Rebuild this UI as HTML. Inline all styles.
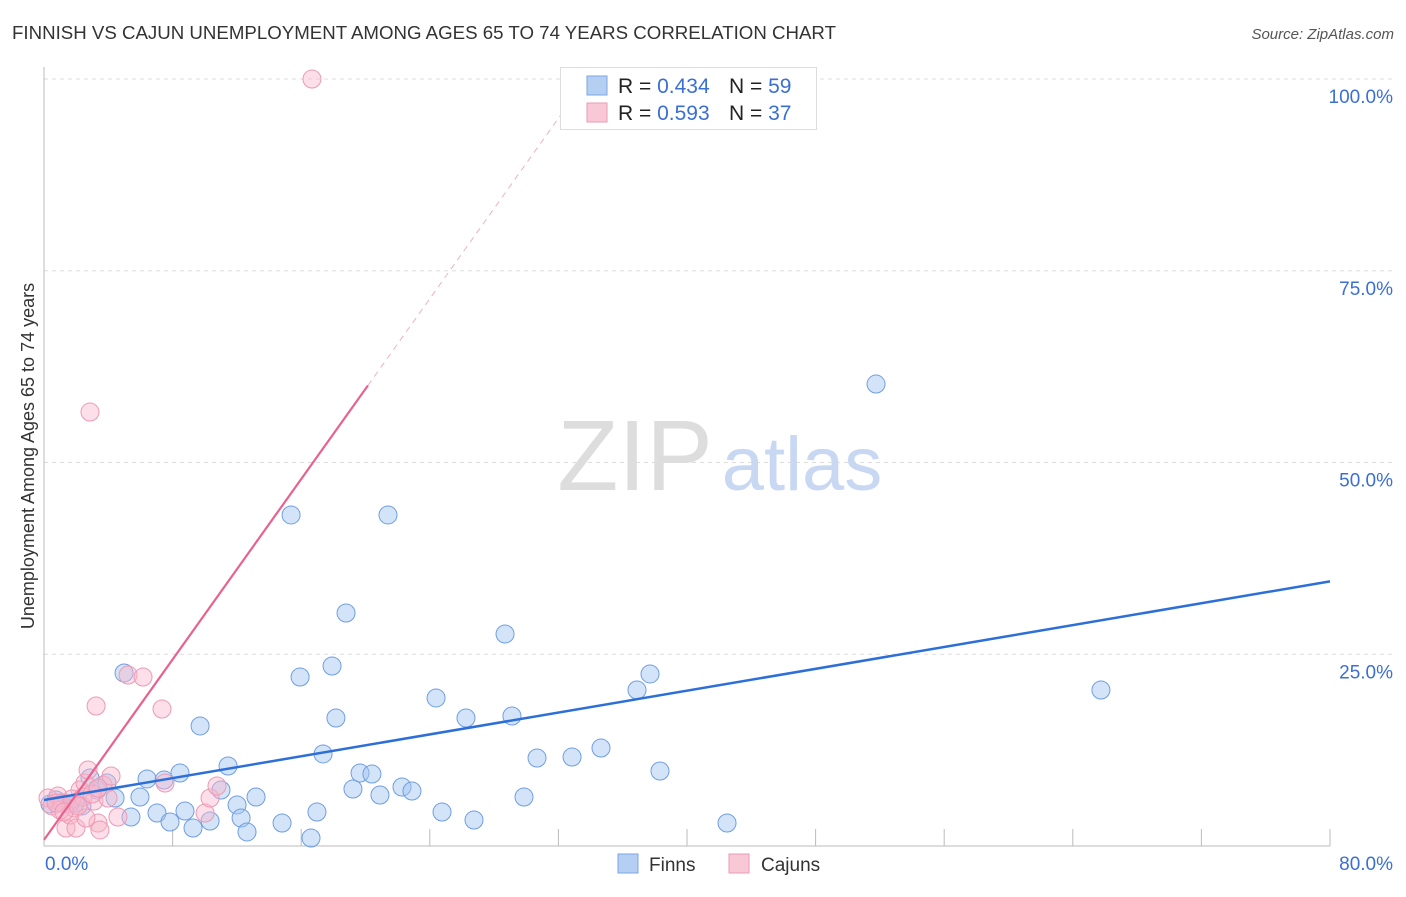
<!DOCTYPE html>
<html><head><meta charset="utf-8"><style>
body{margin:0;background:#fff;font-family:"Liberation Sans",sans-serif}
svg text{font-family:"Liberation Sans",sans-serif}
</style></head><body>
<svg id="chart" width="1406" height="892" xmlns="http://www.w3.org/2000/svg">
<text x="12" y="39" font-size="18" fill="#333" textLength="824" lengthAdjust="spacingAndGlyphs">FINNISH VS CAJUN UNEMPLOYMENT AMONG AGES 65 TO 74 YEARS CORRELATION CHART</text>
<text x="1394" y="39" font-size="15" font-style="italic" fill="#555" text-anchor="end">Source: ZipAtlas.com</text>
<g id="grid"></g>
<text x="635" y="490" font-size="100" font-family="Liberation Serif" fill="#ddd" text-anchor="middle">ZIP</text>
<text x="802" y="490" font-size="76" fill="#c9d8f2" text-anchor="middle">atlas</text>
<g id="axes"></g>
<g id="pts"></g>
<g id="lines"></g>
<text transform="translate(34,456) rotate(-90)" font-size="18" fill="#333" text-anchor="middle">Unemployment Among Ages 65 to 74 years</text>
<g>
<rect x="560.5" y="67.5" width="256" height="62" fill="#fff" stroke="#ddd"/>
<rect x="587" y="76" width="20" height="19" fill="#b5cff3" stroke="#7aa5e6"/>
<rect x="587" y="103" width="20" height="19" fill="#f9c8d6" stroke="#eb9ab3"/>
<text x="618" y="93" font-size="21" fill="#222">R = <tspan fill="#3b6fd4">0.434</tspan></text>
<text x="729" y="93" font-size="21" fill="#222">N = <tspan fill="#3b6fd4">59</tspan></text>
<text x="618" y="120" font-size="21" fill="#222">R = <tspan fill="#3b6fd4"> 0.593</tspan></text>
<text x="729" y="120" font-size="21" fill="#222">N = <tspan fill="#3b6fd4">37</tspan></text>
</g>
<g>
<rect x="618" y="854" width="20" height="19" fill="#b5cff3" stroke="#7aa5e6"/>
<text x="649" y="871" font-size="19" fill="#333">Finns</text>
<rect x="729" y="854" width="20" height="19" fill="#f9c8d6" stroke="#eb9ab3"/>
<text x="761" y="871" font-size="19" fill="#333">Cajuns</text>
</g>
</svg>
<script>
const yTicks=[25,50,75,100];
const yTickLabels=["25.0%","50.0%","75.0%","100.0%"];
const finnsX=[0.37,0.75,1.12,1.62,1.93,2.36,2.86,3.30,3.92,4.42,4.98,5.41,5.97,6.41,7.03,7.47,7.84,8.46,8.77,9.27,9.71,10.33,11.01,11.45,12.01,12.26,12.63,13.19,14.81,15.37,15.93,16.61,16.98,17.36,17.92,18.16,18.79,19.22,19.66,20.40,20.90,21.40,22.27,22.89,24.39,24.76,26.25,26.75,28.68,29.11,29.86,30.67,32.85,34.65,36.89,37.70,38.32,42.49,51.76,65.75];
const finnsY=[5.48,6.0,5.61,5.48,5.61,5.22,8.87,7.30,8.21,6.26,22.56,3.78,6.39,8.74,4.30,8.60,3.13,9.52,4.56,2.35,15.65,3.26,7.30,10.43,5.35,3.65,1.83,6.39,3.00,43.16,22.03,1.04,4.43,12.0,23.47,16.69,30.38,7.43,9.52,9.39,6.65,43.16,7.69,7.17,19.30,4.43,16.69,3.39,27.64,16.95,6.39,11.47,11.60,12.78,20.34,22.43,9.78,3.00,60.23,20.34];
const cajunsX=[0.25,0.50,0.87,1.12,1.37,1.62,1.87,1.99,2.24,2.55,2.74,2.86,3.11,3.24,3.36,3.48,3.67,3.98,4.17,4.60,5.23,6.16,7.34,7.53,10.02,10.33,10.76,16.67,1.0,0.75,1.74,2.43,2.99,2.61,3.36,1.24,2.12];
const cajunsY=[6.26,5.22,6.52,5.61,2.35,4.04,4.95,2.35,7.30,8.21,9.91,56.58,5.87,18.25,3.00,2.09,7.95,6.26,9.13,3.78,22.29,22.03,17.86,8.21,4.30,6.26,7.82,100,4.69,5.61,6.13,6.39,6.78,3.65,7.56,4.43,5.22];
const finnsTrend=[6.0,34.5];
const cajunsTrend=[0.8,2.94];
const X0=44,X1=1330,Y0=846,Y1=79;
const sx=v=>X0+(X1-X0)*v/80, sy=v=>Y0-(Y0-Y1)*v/100;
const NS="http://www.w3.org/2000/svg";
function mk(t,a,p){const e=document.createElementNS(NS,t);for(const k in a)e.setAttribute(k,a[k]);p.appendChild(e);return e;}
const grid=document.getElementById('grid'),axes=document.getElementById('axes'),pts=document.getElementById('pts'),lines=document.getElementById('lines');
yTicks.forEach((t,i)=>{
 const l=mk('line',{x1:X0,x2:1394,y1:sy(t),y2:sy(t),stroke:'#ddd','stroke-dasharray':'4,4'},grid);
 
 
 const tx=mk('text',{x:1393,y:sy(t)+24,'font-size':19,fill:'#3b6fd4','text-anchor':'end'},grid);
 tx.textContent=yTickLabels[i];
 
 
});
mk('line',{x1:X0,x2:X0,y1:67,y2:Y0,stroke:'#bbb'},axes);
mk('line',{x1:X0,x2:X1,y1:Y0,y2:Y0,stroke:'#bbb'},axes);
for(let k=1;k<=10;k++){const x=sx(k*8);const t=mk('line',{x1:x,x2:x,y1:Y0-17,y2:Y0,stroke:'#bbb'},axes);
 
 }
const xl=mk('text',{x:45,y:870,'font-size':19,fill:'#3b6fd4'},axes);xl.textContent='0.0%';


const xr=mk('text',{x:1393,y:870,'font-size':19,fill:'#3b6fd4','text-anchor':'end'},axes);xr.textContent='80.0%';


finnsX.forEach((x,i)=>{const c=mk('circle',{cx:sx(x),cy:sy(finnsY[i]),r:9,fill:'rgba(160,195,240,0.45)',stroke:'#6f9ee3','stroke-width':1},pts);
 
 });
cajunsX.forEach((x,i)=>{const c=mk('circle',{cx:sx(x),cy:sy(cajunsY[i]),r:9,fill:'rgba(248,185,205,0.45)',stroke:'#ee9ab4','stroke-width':1},pts);
 
 });
const fl=mk('line',{x1:sx(0),y1:sy(finnsTrend[0]),x2:sx(80),y2:sy(finnsTrend[1]),stroke:'#2d6fd8','stroke-width':2.5},lines);


const cEnd=20.15,cMax=(100-cajunsTrend[0])/cajunsTrend[1];
const cl=mk('line',{x1:sx(0),y1:sy(cajunsTrend[0]),x2:sx(cEnd),y2:sy(cajunsTrend[0]+cajunsTrend[1]*cEnd),stroke:'#e8628f','stroke-width':2.2},lines);


const cd=mk('line',{x1:sx(cEnd),y1:sy(cajunsTrend[0]+cajunsTrend[1]*cEnd),x2:sx(cMax),y2:sy(100),stroke:'#efb0c4','stroke-width':1,'stroke-dasharray':'6,5'},lines);


</script>
</body></html>
